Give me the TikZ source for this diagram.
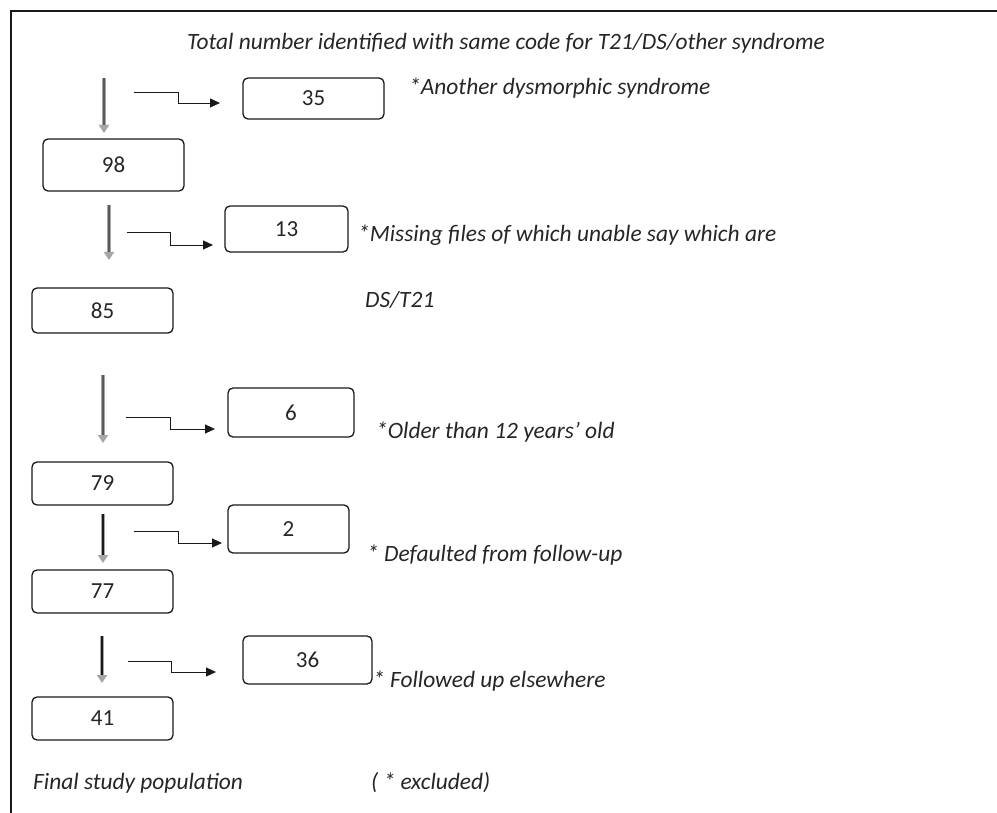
\documentclass[tikz,border=0pt]{standalone}
\usepackage{fontspec}
\setmainfont{Carlito}
\usetikzlibrary{arrows.meta}
\begin{document}
\begin{tikzpicture}[x=1pt,y=-1pt,
  box/.style={draw=black!90, rounded corners=5pt, line width=1.3pt, inner sep=0pt,
              font=\fontsize{23}{27}\selectfont, text=black!85},
  note/.style={anchor=west, inner sep=0pt, font=\fontsize{23.4}{27}\selectfont\itshape, text=black!85},
  elbow/.style={line width=0.9pt, draw=black!90, -{Triangle[length=10pt,width=9pt]}},
  vshaft/.style={line width=4pt, draw=gray!70, -{Triangle[length=8pt,width=10pt]}},
  vcorelight/.style={line width=1.5pt, draw=black!65, shorten >=8pt},
  vcoredark/.style={line width=2.2pt, draw=black!90, shorten >=8pt},
  border/.style={line width=2.2pt, draw=black!90}
]
\useasboundingbox (0,0) rectangle (997,813);

% frame
\coordinate (fr1) at (997,11);
\coordinate (fr2) at (11,11);
\coordinate (fr3) at (11,813);
\draw[border] (fr1) -- (fr2) -- (fr3);

% boxes
\node[box, minimum width=141pt, minimum height=41pt] (b35) at (313.5,98.5) {35};
\node[box, minimum width=141pt, minimum height=52pt] (b98) at (113.5,165) {98};
\node[box, minimum width=123pt, minimum height=46pt] (b13) at (286.5,229) {13};
\node[box, minimum width=141pt, minimum height=45pt] (b85) at (102.5,310.5) {85};
\node[box, minimum width=126pt, minimum height=49pt] (b6) at (291,412.5) {6};
\node[box, minimum width=141pt, minimum height=43pt] (b79) at (102.5,483.5) {79};
\node[box, minimum width=121pt, minimum height=48pt] (b2) at (288.5,529) {2};
\node[box, minimum width=141pt, minimum height=43pt] (b77) at (102.5,591.5) {77};
\node[box, minimum width=129pt, minimum height=48pt] (b36) at (307.5,660) {36};
\node[box, minimum width=141pt, minimum height=43pt] (b41) at (102.5,718.5) {41};

% texts
\node[note] (title) at (187,43) {Total number identified with same code for T21/DS/other syndrome};
\node[note] (t35) at (409,88) {*Another dysmorphic syndrome};
\node[note] (t13) at (358,235) {*Missing files of which unable say which are};
\node[note] (tds) at (365,300) {DS/T21};
\node[note] (t6) at (376,432) {*Older than 12 years’ old};
\node[note] (t2) at (367,555) {* Defaulted from follow-up};
\node[note] (t36) at (373,681) {* Followed up elsewhere};
\node[note] (tfinal) at (33,783) {Final study population};
\node[note] (texcl) at (371,783) {( * excluded)};

% vertical arrows
\coordinate (v1s) at (104,78);  \coordinate (v1e) at (104,133);
\coordinate (v2s) at (109,205); \coordinate (v2e) at (109,260);
\coordinate (v3s) at (103,375); \coordinate (v3e) at (103,443);
\coordinate (v4s) at (103,514); \coordinate (v4e) at (103,563);
\coordinate (v5s) at (102,636); \coordinate (v5e) at (102,683);
\foreach \i in {1,2,3}{
  \draw[vshaft] (v\i s) -- (v\i e);
  \draw[vcorelight] (v\i s) -- (v\i e);
}
\foreach \i in {4,5}{
  \draw[vshaft] (v\i s) -- (v\i e);
  \draw[vcoredark] (v\i s) -- (v\i e);
}

% elbow connectors
\coordinate (c1s) at (134,92);  \coordinate (c1e) at (220,103);
\coordinate (c2s) at (127,232); \coordinate (c2e) at (213,245);
\coordinate (c3s) at (126,417); \coordinate (c3e) at (215,429);
\coordinate (c4s) at (134,531); \coordinate (c4e) at (222,543);
\coordinate (c5s) at (128,661); \coordinate (c5e) at (216,672);
\draw[elbow] (c1s) -- ++(44,0) |- (c1e);
\draw[elbow] (c2s) -- ++(43,0) |- (c2e);
\draw[elbow] (c3s) -- ++(44,0) |- (c3e);
\draw[elbow] (c4s) -- ++(44,0) |- (c4e);
\draw[elbow] (c5s) -- ++(43,0) |- (c5e);
\end{tikzpicture}
\end{document}
